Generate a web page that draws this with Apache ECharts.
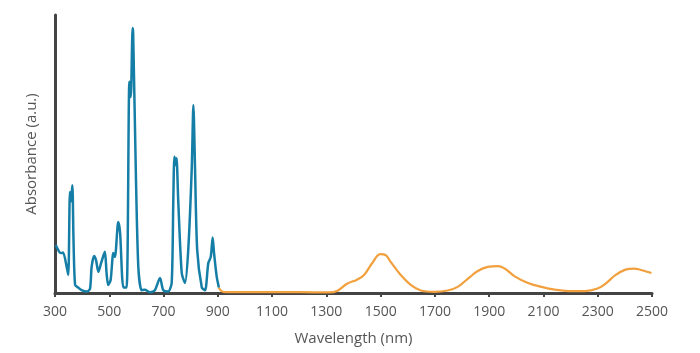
<!DOCTYPE html>
<html>
<head>
<meta charset="utf-8">
<script src="https://cdn.jsdelivr.net/npm/echarts@6/dist/echarts.min.js"></script>
<style>
  html, body { margin: 0; padding: 0; background: #fff; }
  #chart { width: 700px; height: 353px; }
</style>
</head>
<body>
<div id="chart"></div>
<script>
// visible spectrum (blue), wavelength in nm
const visNm = [303, 309, 318, 325, 330, 343, 349, 355, 359, 364, 368, 374, 385, 398, 417, 429, 435, 444, 451, 460, 470, 478, 484, 490, 496, 505, 515, 521, 533, 540, 552, 564, 574, 579, 581, 586, 588, 598, 607, 619, 631, 650, 668, 687, 699, 717, 730, 736, 740, 745, 748, 754, 767, 779, 791, 804, 810, 816, 824, 841, 853, 865, 874, 881, 886, 896, 904];
const visAbs = [17.3, 16, 14.5, 14.4, 14.6, 9.4, 6.5, 36.3, 33, 38.8, 20, 2.9, 2, 1, 0.5, 1.5, 9.4, 13.3, 11.9, 7.6, 10.8, 13.3, 14.8, 7.2, 2.9, 4.7, 14.4, 13, 25.5, 21.5, 2, 2, 76, 70.5, 74, 95.3, 93.5, 43, 9.4, 1, 1.2, 0.3, 1, 5.4, 1, 0.5, 3.6, 33.5, 49, 46, 48.5, 33.5, 7.2, 3.6, 15.5, 45, 67.6, 45, 15.5, 2, 1, 10.8, 13, 20, 14.4, 5.8, 2];

// NIR spectrum (orange)
const nirNm = [903, 915, 930, 1000, 1100, 1200, 1313, 1339, 1376, 1413, 1438, 1468, 1499, 1518, 1537, 1574, 1611, 1648, 1697, 1747, 1784, 1821, 1858, 1895, 1932, 1957, 1994, 2043, 2093, 2142, 2192, 2253, 2297, 2328, 2365, 2402, 2433, 2463, 2498];
const nirAbs = [2, 0.6, 0.3, 0.3, 0.3, 0.3, 0.2, 0.7, 3.3, 4.8, 6.4, 10.6, 14, 13.7, 11.2, 6.5, 2.9, 0.9, 0.4, 0.9, 2.2, 5.1, 7.9, 9.4, 9.7, 8.8, 6, 3.6, 2.2, 1.2, 0.7, 0.7, 1.5, 3.3, 6.4, 8.4, 8.8, 8.2, 7.2];

const xTicks = [300, 500, 700, 900, 1100, 1300, 1500, 1700, 1900, 2100, 2300, 2500];

const pair = (xs, ys) => xs.map((x, i) => [x, ys[i]]);

const chart = echarts.init(document.getElementById('chart'));
const font = '"Open Sans", "Noto Sans", sans-serif';

chart.setOption({
  animation: false,
  grid: { left: 55, right: 48, top: 15, bottom: 60 },
  xAxis: {
    type: 'value',
    min: xTicks[0],
    max: xTicks[xTicks.length - 1],
    interval: 200,
    name: 'Wavelength (nm)',
    nameLocation: 'middle',
    nameGap: 38,
    nameTextStyle: { color: '#555', fontSize: 15, fontFamily: font },
    axisLine: { lineStyle: { color: '#444', width: 3 } },
    axisTick: { length: 4, lineStyle: { color: '#444', width: 2 } },
    axisLabel: {
      color: '#555', fontSize: 14, fontFamily: font, margin: 12,
      formatter: v => String(v)
    },
    splitLine: { show: false }
  },
  yAxis: {
    type: 'value',
    min: 0,
    max: 100,
    name: 'Absorbance (a.u.)',
    nameLocation: 'middle',
    nameGap: 16,
    nameTextStyle: { color: '#555', fontSize: 15, fontFamily: font },
    axisLine: { show: true, lineStyle: { color: '#444', width: 3 } },
    axisTick: { show: false },
    axisLabel: { show: false },
    splitLine: { show: false }
  },
  series: [
    {
      type: 'line',
      data: pair(nirNm, nirAbs),
      smooth: 0.4,
      showSymbol: false,
      lineStyle: { color: '#f2a03d', width: 2.2 },
      z: 2
    },
    {
      type: 'line',
      data: pair(visNm, visAbs),
      smooth: 0.25,
      showSymbol: false,
      lineStyle: { color: '#157ea6', width: 2.5 },
      z: 3
    }
  ]
});
</script>
</body>
</html>
